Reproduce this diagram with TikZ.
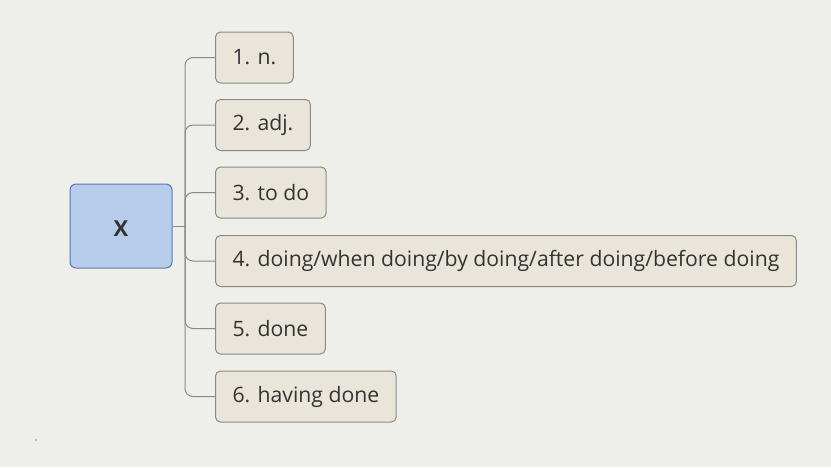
\documentclass[tikz,border=0pt]{standalone}
\usepackage{fontspec}
\setmainfont{Open Sans}
\definecolor{bg}{HTML}{EEEEEA}
\definecolor{childfill}{HTML}{EAE5DA}
\definecolor{childline}{HTML}{8C8A82}
\definecolor{rootfill}{HTML}{B7CBEA}
\definecolor{rootline}{HTML}{5A79AC}
\definecolor{conn}{HTML}{8A8A86}
\definecolor{txt}{HTML}{333333}
\begin{document}
\begin{tikzpicture}[x=1pt,y=-1pt,
  rootbox/.style={draw=rootline,fill=rootfill,line width=1pt,rounded corners=6pt,
    minimum width=102pt,minimum height=84pt,inner sep=0pt},
  roottext/.style={inner sep=0pt,font=\fontsize{22}{24}\selectfont\bfseries,text=txt},
  childbox/.style={draw=childline,fill=childfill,line width=1pt,rounded corners=5pt,
    minimum height=51pt,inner xsep=17pt,inner ysep=0pt,anchor=west,font=\fontsize{21.2}{24}\selectfont,text=txt},
  branch/.style={draw=conn,line width=1pt,rounded corners=8pt}]
\fill[bg] (0,0) rectangle (831,467);
\useasboundingbox (0,0) rectangle (831,467);
\node[rootbox] (root) at (121,226) {};
\node[roottext] (rootlabel) at (121,229) {X};
\node[childbox] (c1) at (215,57.5) {1. n.};
\node[childbox] (c2) at (215,125) {2. adj.};
\node[childbox] (c3) at (215,192.5) {3. to do};
\node[childbox] (c4) at (215,261) {4. doing/when doing/by doing/after doing/before doing};
\node[childbox] (c5) at (215,328.5) {5. done};
\node[childbox] (c6) at (215,396.5) {6. having done};
\coordinate (trunk) at (185,226);
\draw[draw=conn,line width=1pt] (root.east) -- (trunk);
\foreach \c in {c1,c2,c3,c4,c5,c6}{
  \draw[branch] (trunk) |- (\c.west);
}
\fill[conn] (36,440) circle (0.8pt);
\end{tikzpicture}
\end{document}
